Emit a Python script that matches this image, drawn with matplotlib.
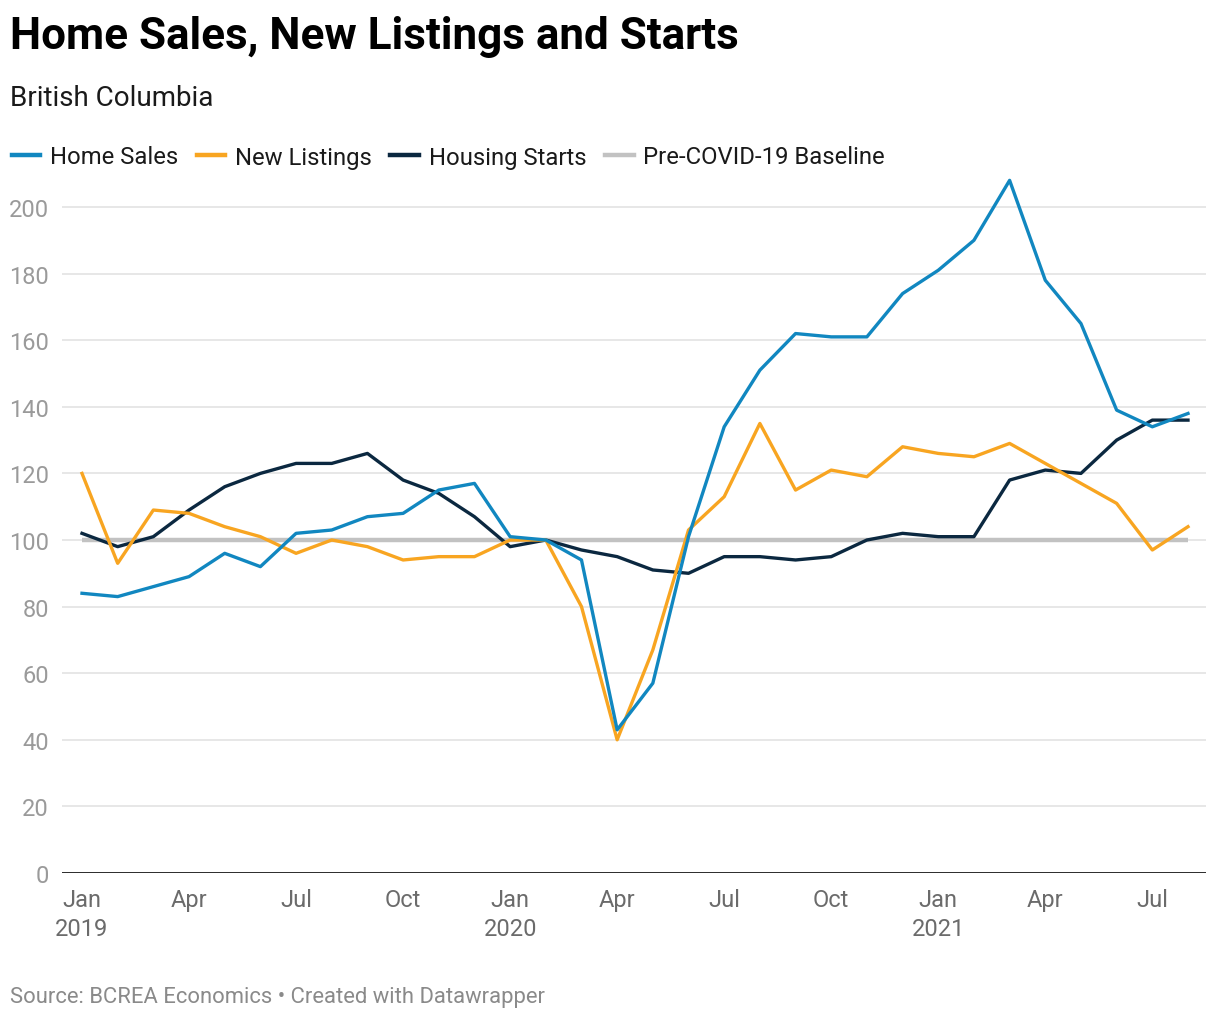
import matplotlib
matplotlib.use("Agg")
import matplotlib.pyplot as plt
from matplotlib.lines import Line2D

plt.rcParams['font.family'] = ['Roboto', 'DejaVu Sans']

months = ["Jan 2019", "Feb 2019", "Mar 2019", "Apr 2019", "May 2019", "Jun 2019",
          "Jul 2019", "Aug 2019", "Sep 2019", "Oct 2019", "Nov 2019", "Dec 2019",
          "Jan 2020", "Feb 2020", "Mar 2020", "Apr 2020", "May 2020", "Jun 2020",
          "Jul 2020", "Aug 2020", "Sep 2020", "Oct 2020", "Nov 2020", "Dec 2020",
          "Jan 2021", "Feb 2021", "Mar 2021", "Apr 2021", "May 2021", "Jun 2021",
          "Jul 2021", "Aug 2021"]

home_sales = [84, 83, 86, 89, 96, 92, 102, 103, 107, 108, 115, 117,
              101, 100, 94, 43, 57, 101, 134, 151, 162, 161, 161, 174,
              181, 190, 208, 178, 165, 139, 134, 138]
new_listings = [120, 93, 109, 108, 104, 101, 96, 100, 98, 94, 95, 95,
                100, 100, 80, 40, 67, 103, 113, 135, 115, 121, 119, 128,
                126, 125, 129, 123, 117, 111, 97, 104]
housing_starts = [102, 98, 101, 109, 116, 120, 123, 123, 126, 118, 114, 107,
                  98, 100, 97, 95, 91, 90, 95, 95, 94, 95, 100, 102,
                  101, 101, 118, 121, 120, 130, 136, 136]
baseline = [100] * len(months)

series_names = ["Home Sales", "New Listings", "Housing Starts", "Pre-COVID-19 Baseline"]
colors = ["#1187c0", "#f8a521", "#0b2840", "#c2c2c2"]

tick_idx = [0, 3, 6, 9, 12, 15, 18, 21, 24, 27, 30]
tick_labels = ["Jan\n2019", "Apr", "Jul", "Oct", "Jan\n2020", "Apr", "Jul", "Oct",
               "Jan\n2021", "Apr", "Jul"]
y_ticks = [0, 20, 40, 60, 80, 100, 120, 140, 160, 180, 200]

W, H = 1220, 1020
fig = plt.figure(figsize=(W / 100, H / 100), dpi=100)

ax_left, ax_right = 62 / W, 1206 / W
ax_bottom = 1 - 874 / H
ymax = 210
px_per_unit = (874 - 208) / 200
ax_top_px = 874 - ymax * px_per_unit
ax = fig.add_axes([ax_left, ax_bottom, ax_right - ax_left, (874 - ax_top_px) / H])

x = list(range(len(months)))
px_per_month = (1188 - 82) / 31
ax.set_xlim(0 - (82 - 62) / px_per_month, 31 + (1206 - 1188) / px_per_month)
ax.set_ylim(0, ymax)

ax.plot(x, baseline, color=colors[3], lw=3.2, solid_capstyle='butt', zorder=2)
ax.plot(x, housing_starts, color=colors[2], lw=2.4, zorder=3)
ax.plot(x, new_listings, color=colors[1], lw=2.4, zorder=4)
ax.plot(x, home_sales, color=colors[0], lw=2.4, zorder=5)

for s in ax.spines.values():
    s.set_visible(False)
ax.set_yticks(y_ticks)
ax.set_yticklabels([str(v) for v in y_ticks])
ax.grid(axis='y', color='#e3e3e3', lw=1.2, zorder=0)
ax.axhline(0, color='#1a1a1a', lw=2.0, zorder=6)
ax.tick_params(axis='y', length=0, pad=9.5, labelsize=17, labelcolor='#9a9a9a')
ax.set_xticks(tick_idx)
ax.set_xticklabels(tick_labels, linespacing=1.32)
ax.tick_params(axis='x', length=0, pad=11, labelsize=17, labelcolor='#6b6b6b')

fig.text(10 / W, 1 - 37 / H, "Home Sales, New Listings and Starts", fontsize=31.7,
         fontweight='bold', color='#000000', va='center', ha='left')
fig.text(10 / W, 1 - 98 / H, "British Columbia", fontsize=20, color='#1a1a1a',
         va='center', ha='left')
fig.text(10 / W, 1 - 998 / H, "Source: BCREA Economics \u2022 Created with Datawrapper",
         fontsize=15.8, color='#8a8a8a', va='center', ha='left')

handles = [Line2D([0], [0], color=c, lw=3.2) for c in colors]
fig.legend(handles, series_names, loc='center left', bbox_to_anchor=(2 / W, 1 - 158 / H),
           ncol=4, frameon=False, fontsize=17.2, handlelength=1.2, handletextpad=0.4,
           columnspacing=0.78, labelcolor='#1a1a1a', borderaxespad=0)

fig.savefig("out.png", dpi=100, facecolor='white')
